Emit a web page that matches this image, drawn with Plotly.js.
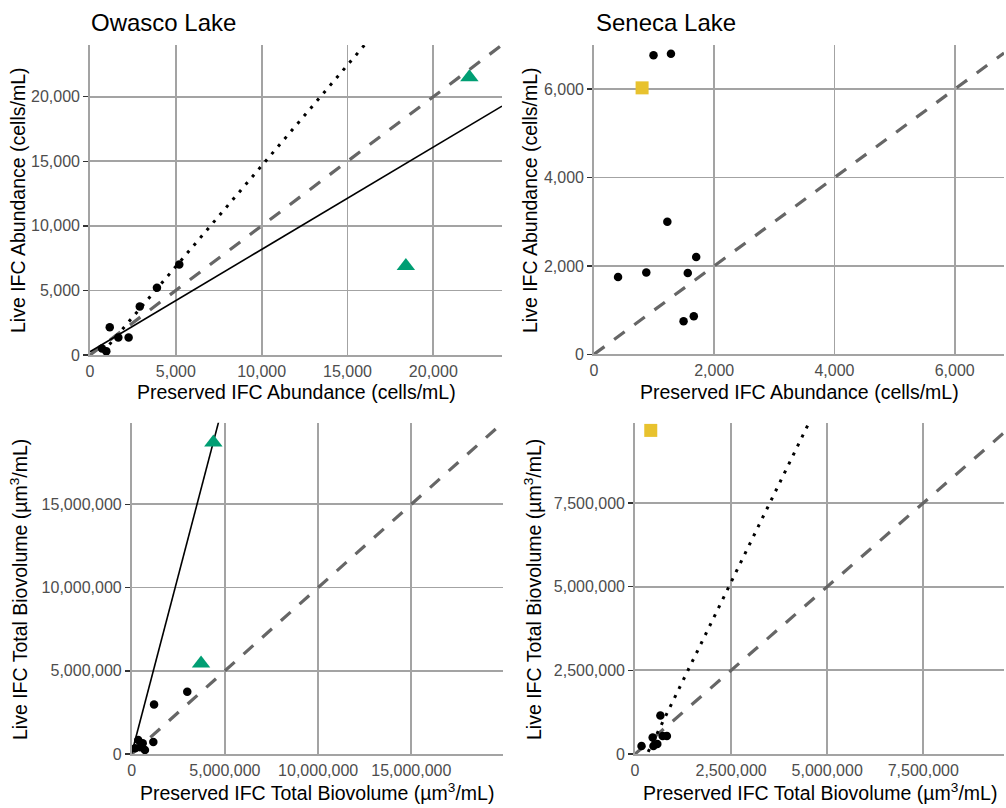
<!DOCTYPE html>
<html>
<head>
<meta charset="utf-8">
<script src="https://cdn.plot.ly/plotly-3.0.1.min.js"></script>
<style>html,body{margin:0;padding:0;background:#fff;}#chart{width:1006px;height:808px;}</style>
</head>
<body>
<div id="chart"></div>
<script>
// ---- Data ----
// Owasco Lake, abundance (cells/mL)
const owascoAbundPres = [5200, 3900, 2900, 1150, 1650, 2250, 700, 950];
const owascoAbundLive = [7000, 5200, 3750, 2150, 1350, 1350, 500, 300];
const owascoAbundTriPres = [22100, 18400];
const owascoAbundTriLive = [21500, 6900];
// Seneca Lake, abundance (cells/mL)
const senecaAbundPres = [990, 1280, 1220, 1700, 400, 870, 1560, 1490, 1660];
const senecaAbundLive = [6770, 6800, 3000, 2200, 1750, 1850, 1840, 750, 860];
const senecaAbundSqPres = [800];
const senecaAbundSqLive = [6030];
// Owasco Lake, total biovolume (um3/mL)
const owascoBioPres = [2980000, 1200000, 1160000, 350000, 590000, 180000, 710000, 450000];
const owascoBioLive = [3740000, 2980000, 720000, 840000, 640000, 340000, 240000, 400000];
const owascoBioTriPres = [4380000, 3720000];
const owascoBioTriLive = [18710000, 5440000];
// Seneca Lake, total biovolume (um3/mL)
const senecaBioPres = [660000, 170000, 460000, 720000, 830000, 480000, 580000];
const senecaBioLive = [1150000, 240000, 490000, 540000, 540000, 240000, 300000];
const senecaBioSqPres = [410000];
const senecaBioSqLive = [9670000];
// Fitted lines: [intercept, slope]
const owascoAbundSolid = [255, 0.792];
const owascoAbundDotted = [-950, 1.56];
const owascoBioSolid = [40000, 4.27];
const senecaBioDotted = [-740000, 2.35];
// Axis ranges
const ranges = {
  p1: {x: [0, 24000], y: [0, 24000]},
  p2: {x: [0, 6820], y: [0, 7000]},
  p3: {x: [0, 19900000], y: [0, 19900000]},
  p4: {x: [0, 9600000], y: [0, 9900000]}
};
const dticks = {p1: 5000, p2: 2000, p3: 5000000, p4: 2500000};

const W = 1006, H = 808;
const px = v => v / W;
const py = v => 1 - v / H;

function lineTrace(coef, xr, ax, style) {
  const xs = [xr[0], xr[1]];
  const ys = xs.map(x => coef[0] + coef[1] * x);
  return Object.assign({x: xs, y: ys, mode: 'lines', xaxis: 'x' + ax, yaxis: 'y' + ax,
    hoverinfo: 'skip', showlegend: false}, {line: style});
}
const dashStyle = {color: '#666666', width: 3.2, dash: '13px,12px'};
const dotStyle = {color: '#000000', width: 3, dash: '3px,7px'};
const solidStyle = {color: '#000000', width: 1.6};

function pts(x, y, ax, marker) {
  return {x: x, y: y, mode: 'markers', type: 'scatter', xaxis: 'x' + ax, yaxis: 'y' + ax,
    marker: marker, showlegend: false, cliponaxis: false};
}
const dot = {color: '#000000', size: 8.5, line: {width: 0}};
const tri = {color: '#009E73', size: 16, symbol: 'triangle-up', line: {width: 0}};
const sq = {color: '#E8C22E', size: 13, symbol: 'square', line: {width: 0}};

const ax1 = '', ax2 = '2', ax3 = '3', ax4 = '4';
const traces = [
  lineTrace([0, 1], ranges.p1.x, ax1, dashStyle),
  lineTrace(owascoAbundSolid, ranges.p1.x, ax1, solidStyle),
  lineTrace(owascoAbundDotted, ranges.p1.x, ax1, dotStyle),
  pts(owascoAbundPres, owascoAbundLive, ax1, dot),
  pts(owascoAbundTriPres, owascoAbundTriLive, ax1, tri),

  lineTrace([0, 1], ranges.p2.x, ax2, dashStyle),
  pts(senecaAbundPres, senecaAbundLive, ax2, dot),
  pts(senecaAbundSqPres, senecaAbundSqLive, ax2, sq),

  lineTrace([0, 1], ranges.p3.x, ax3, dashStyle),
  lineTrace(owascoBioSolid, ranges.p3.x, ax3, solidStyle),
  pts(owascoBioPres, owascoBioLive, ax3, dot),
  pts(owascoBioTriPres, owascoBioTriLive, ax3, tri),

  lineTrace([0, 1], ranges.p4.x, ax4, dashStyle),
  lineTrace(senecaBioDotted, ranges.p4.x, ax4, dotStyle),
  pts(senecaBioPres, senecaBioLive, ax4, dot),
  pts(senecaBioSqPres, senecaBioSqLive, ax4, sq)
];

const FONT = 'Liberation Sans, Arial, sans-serif';
const gridColor = '#a3a3a3';
const tickFont = {family: FONT, size: 16, color: '#4d4d4d'};
function xAxis(domain, range, dtick, anchor) {
  return {domain: domain, range: range, dtick: dtick, tick0: 0, anchor: anchor,
    tickformat: ',d', showgrid: true, gridcolor: gridColor, gridwidth: 1.8,
    zeroline: false, showline: true, linecolor: gridColor, linewidth: 1.8,
    ticks: '', ticklabelstandoff: 1,
    tickfont: tickFont, fixedrange: true};
}
function yAxis(domain, range, dtick, anchor) {
  return {domain: domain, range: range, dtick: dtick, tick0: 0, anchor: anchor,
    tickformat: ',d', showgrid: true, gridcolor: gridColor, gridwidth: 1.8,
    zeroline: false, showline: true, linecolor: gridColor, linewidth: 1.8,
    ticks: 'outside', ticklen: 5, tickwidth: 1.5, tickcolor: '#333333',
    tickfont: tickFont, fixedrange: true};
}

const d1x = [px(90), px(502)], d1y = [py(355), py(45)];
const d2x = [px(594), px(1004)], d2y = [py(354.3), py(45)];
const d3x = [px(131.7), px(502.7)], d3y = [py(754), py(422.7)];
const d4x = [px(635), px(1004)], d4y = [py(754), py(422.7)];

function ann(text, x, y, opts) {
  return Object.assign({text: text, x: px(x), y: py(y), xref: 'paper', yref: 'paper',
    showarrow: false, font: {family: FONT, size: 19.5, color: '#000000'}}, opts || {});
}
const titleFont = {family: FONT, size: 24, color: '#000000'};
const bioUnit = 'µm<sup>3</sup>/mL';

const layout = {
  width: W, height: H,
  margin: {l: 0, r: 0, t: 0, b: 0},
  paper_bgcolor: '#ffffff', plot_bgcolor: '#ffffff',
  showlegend: false,
  xaxis: xAxis(d1x, ranges.p1.x, dticks.p1, 'y'),
  yaxis: yAxis(d1y, ranges.p1.y, dticks.p1, 'x'),
  xaxis2: xAxis(d2x, ranges.p2.x, dticks.p2, 'y2'),
  yaxis2: yAxis(d2y, ranges.p2.y, dticks.p2, 'x2'),
  xaxis3: xAxis(d3x, ranges.p3.x, dticks.p3, 'y3'),
  yaxis3: yAxis(d3y, ranges.p3.y, dticks.p3, 'x3'),
  xaxis4: xAxis(d4x, ranges.p4.x, dticks.p4, 'y4'),
  yaxis4: yAxis(d4y, ranges.p4.y, dticks.p4, 'x4'),
  annotations: [
    ann('Owasco Lake', 89, 22, {xanchor: 'left', yanchor: 'middle', font: titleFont}),
    ann('Seneca Lake', 594, 22, {xanchor: 'left', yanchor: 'middle', font: titleFont}),
    ann('Live IFC Abundance (cells/mL)', 18, 200, {textangle: -90, xanchor: 'center', yanchor: 'middle'}),
    ann('Live IFC Abundance (cells/mL)', 530, 200, {textangle: -90, xanchor: 'center', yanchor: 'middle'}),
    ann('Preserved IFC Abundance (cells/mL)', 296, 392, {xanchor: 'center', yanchor: 'middle'}),
    ann('Preserved IFC Abundance (cells/mL)', 799, 392, {xanchor: 'center', yanchor: 'middle'}),
    ann('Live IFC Total Biovolume (' + bioUnit + ')', 19, 590, {textangle: -90, xanchor: 'center', yanchor: 'middle'}),
    ann('Live IFC Total Biovolume (' + bioUnit + ')', 533, 590, {textangle: -90, xanchor: 'center', yanchor: 'middle'}),
    ann('Preserved IFC Total Biovolume (' + bioUnit + ')', 317, 792, {xanchor: 'center', yanchor: 'middle'}),
    ann('Preserved IFC Total Biovolume (' + bioUnit + ')', 820, 792, {xanchor: 'center', yanchor: 'middle'})
  ]
};

Plotly.newPlot('chart', traces, layout, {displayModeBar: false, staticPlot: true});
</script>
</body>
</html>
